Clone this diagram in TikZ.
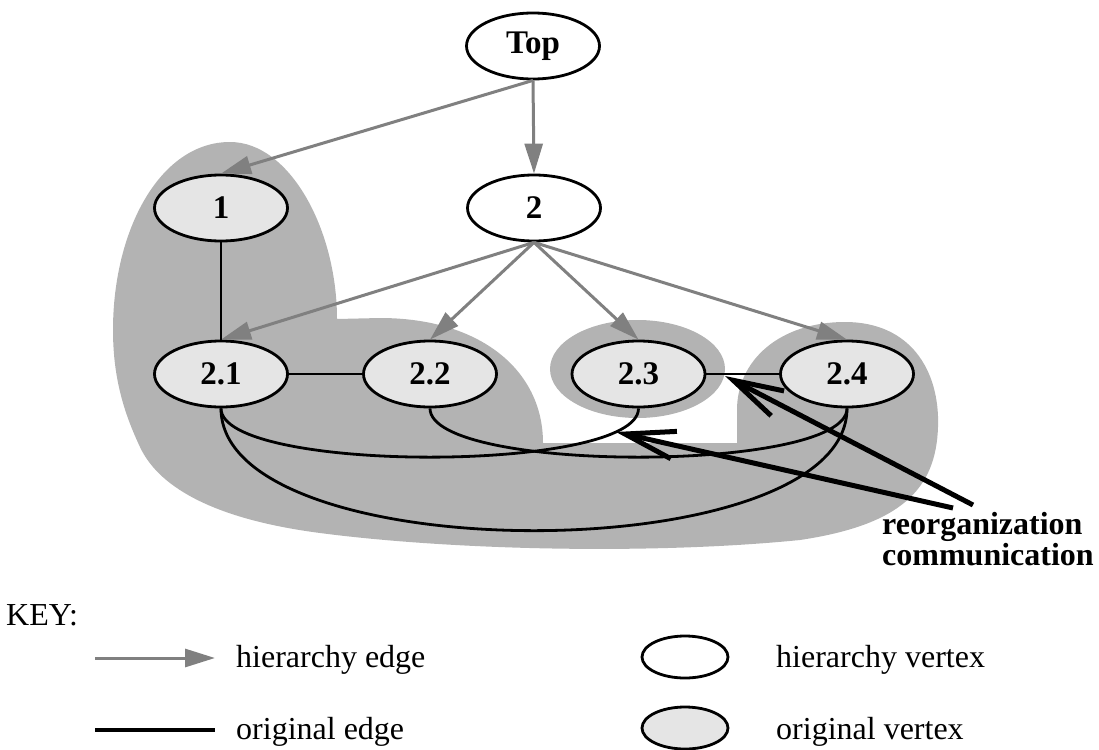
\documentclass[tikz,border=0pt]{standalone}
\usepackage{fontspec}
\setmainfont{Liberation Serif}
\usetikzlibrary{arrows.meta,shapes.geometric}
\definecolor{blobgray}{RGB}{179,179,179}
\definecolor{vfill}{RGB}{229,229,229}
\definecolor{hgray}{RGB}{128,128,128}

\begin{document}
\begin{tikzpicture}[x=1pt,y=-1pt,
  vtx/.style={ellipse, draw, line width=2.8pt, minimum width=133pt,
    minimum height=66pt, inner sep=0pt,
    font=\fontsize{33}{33}\selectfont\bfseries},
  hv/.style={vtx, fill=white},
  ov/.style={vtx, fill=vfill},
  hedge/.style={draw=hgray, line width=3pt,
    -{Triangle[length=30pt,width=18pt]}},
  oedge/.style={line width=2.8pt},
  reorg/.style={line width=5pt, -{Straight Barb[length=50pt,width=28pt]}},
  keytext/.style={anchor=base west, inner sep=0pt,
    font=\fontsize{32}{32}\selectfont},
  keyvtx/.style={ellipse, draw, line width=2.8pt, minimum width=86pt,
    minimum height=42pt, inner sep=0pt}
]
\useasboundingbox (0,0) rectangle (1099,749);

% clusters of original vertices
\fill[blobgray] (113,330) .. controls (113,230) and (160,142) .. (230,142)
  .. controls (290,142) and (337,230) .. (337,319)
  -- (380,318) .. controls (480,318) and (543,370) .. (543,443)
  -- (737,443) -- (737,410) .. controls (737,360) and (780,322) .. (845,322)
  .. controls (910,322) and (940,370) .. (938,427)
  .. controls (936,490) and (900,525) .. (800,540)
  .. controls (650,555) and (450,550) .. (320,533)
  .. controls (220,520) and (160,490) .. (140,447)
  .. controls (125,415) and (113,380) .. cycle;
\fill[blobgray] (637.5,369) ellipse [x radius=87.5, y radius=49];

% vertices
\node[hv] (top) at (533,46) {Top};
\node[ov] (n1)  at (221,208) {1};
\node[hv] (n2)  at (534,208) {2};
\node[ov] (n21) at (221,374) {2.1};
\node[ov] (n22) at (430,374) {2.2};
\node[ov] (n23) at (638.5,374) {2.3};
\node[ov] (n24) at (847,374) {2.4};

% hierarchy edges
\draw[hedge] (top.south) -- (n1.north);
\draw[hedge] (top.south) -- (n2.north);
\draw[hedge] (n2.south) -- (n21.north);
\draw[hedge] (n2.south) -- (n22.north);
\draw[hedge] (n2.south) -- (n23.north);
\draw[hedge] (n2.south) -- (n24.north);

% original edges
\draw[oedge] (n1) -- (n21);
\draw[oedge] (n21) -- (n22);
\draw[oedge] (n23) -- (n24);
\draw[oedge] (n21.south) .. controls +(0,65) and +(0,65) .. (n23.south);
\draw[oedge] (n22.south) .. controls +(0,65) and +(0,65) .. (n24.south);
\draw[oedge] (n21.south) .. controls +(0,163) and +(0,163) .. (n24.south);

% reorganization communication
\node[anchor=north west, inner sep=0pt, align=left,
  font=\fontsize{32}{31}\selectfont\bfseries] (lbl) at (882,512)
  {reorganization\\communication};
\coordinate (r1) at (973,505);
\coordinate (r2) at (953,508);
\coordinate (t1) at (725,376);
\coordinate (t2) at (616,432);
\draw[reorg] (r1) -- (t1);
\draw[reorg] (r2) -- (t2);

% key
\node[keytext] (key) at (6,625) {KEY:};
\coordinate (kh0) at (95,658);
\coordinate (kh1) at (215,658);
\draw[hedge] (kh0) -- (kh1);
\node[keytext] (khe) at (236,667) {hierarchy edge};
\coordinate (ko0) at (95,730);
\coordinate (ko1) at (215,730);
\draw[line width=3.5pt] (ko0) -- (ko1);
\node[keytext] (koe) at (236,739) {original edge};
\node[keyvtx, fill=white] (khv) at (685,657) {};
\node[keytext] (khvt) at (776,667) {hierarchy vertex};
\node[keyvtx, fill=vfill] (kov) at (685,728) {};
\node[keytext] (kovt) at (776,739) {original vertex};
\end{tikzpicture}
\end{document}
